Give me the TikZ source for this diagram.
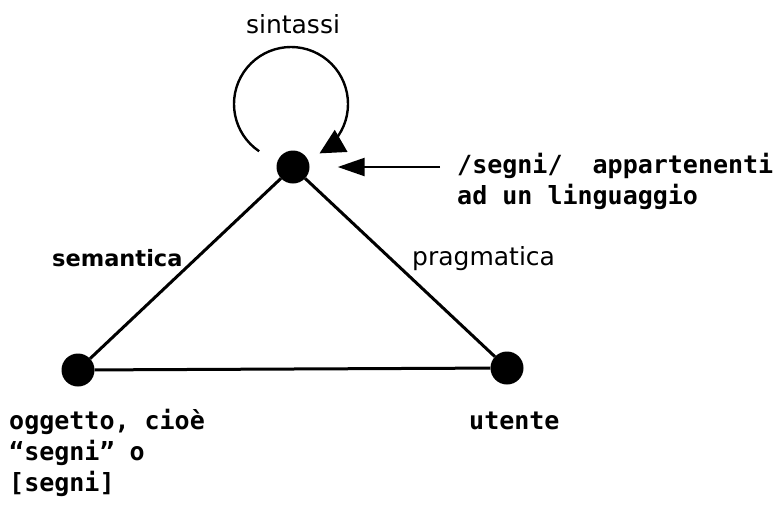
\documentclass[tikz,border=0pt]{standalone}
\usepackage{fontspec}
\usepackage{tikz}
\usetikzlibrary{arrows.meta}
\setmainfont{DejaVu Sans}
\newfontfamily\signfont{DejaVu Sans Mono}
\colorlet{linecol}{black}
\tikzset{
  dot/.style={circle, fill=linecol, inner sep=0pt, minimum size=33pt},
  side/.style={line width=3pt, linecol},
  rolelabel/.style={font=\fontsize{25}{30}\selectfont, inner sep=0pt},
  signlabel/.style={font=\signfont\bfseries\fontsize{25}{31}\selectfont, inner sep=0pt, align=left},
}

\begin{document}
\begin{tikzpicture}[x=1pt, y=1pt, >=Triangle]

  \useasboundingbox (0,0) rectangle (774,-507);

  % Vertices of the triangle.
  \node[dot] (lang) at (293,-167) {};
  \node[dot] (obj) at (78,-370) {};
  \node[dot] (user) at (507,-368) {};

  % Sides.
  \draw[side] (lang) -- (obj);
  \draw[side] (lang) -- (user);
  \draw[side] (obj) -- (user);

  % Syntax loop above the top vertex.
  \coordinate (loopc) at (291,-104);
  \draw[line width=2.4pt, linecol, -{Triangle[length=25pt, width=25pt]}]
    (loopc) ++(236:57) arc[start angle=236, end angle=-60, radius=57];

  % Names of the three relations.
  \node[rolelabel, anchor=base] (syntax) at (293,-33) {sintassi};
  \node[rolelabel, anchor=base west, font=\bfseries\fontsize{22.5}{30}\selectfont] (sem) at (52,-266) {semantica};
  \node[rolelabel, anchor=base west] (prag) at (412,-265) {pragmatica};

  % Vertex labels.
  \node[signlabel, anchor=north west] (langtext) at (457,-153)
    {/segni/\ \ appartenenti\\ad un linguaggio};
  \node[signlabel, anchor=north west] (objtext) at (9,-409)
    {oggetto, cioè\\“segni” o\\{[segni]}};
  \node[signlabel, anchor=base west] (usertext) at (469,-429) {utente};

  % Pointer from the label to the top vertex.
  \coordinate (langptr) at (440,-167);
  \draw[line width=2.4pt, linecol, -{Triangle[length=27pt, width=18pt]},
    shorten >=28pt] (langptr) -- (lang);

\end{tikzpicture}
\end{document}
